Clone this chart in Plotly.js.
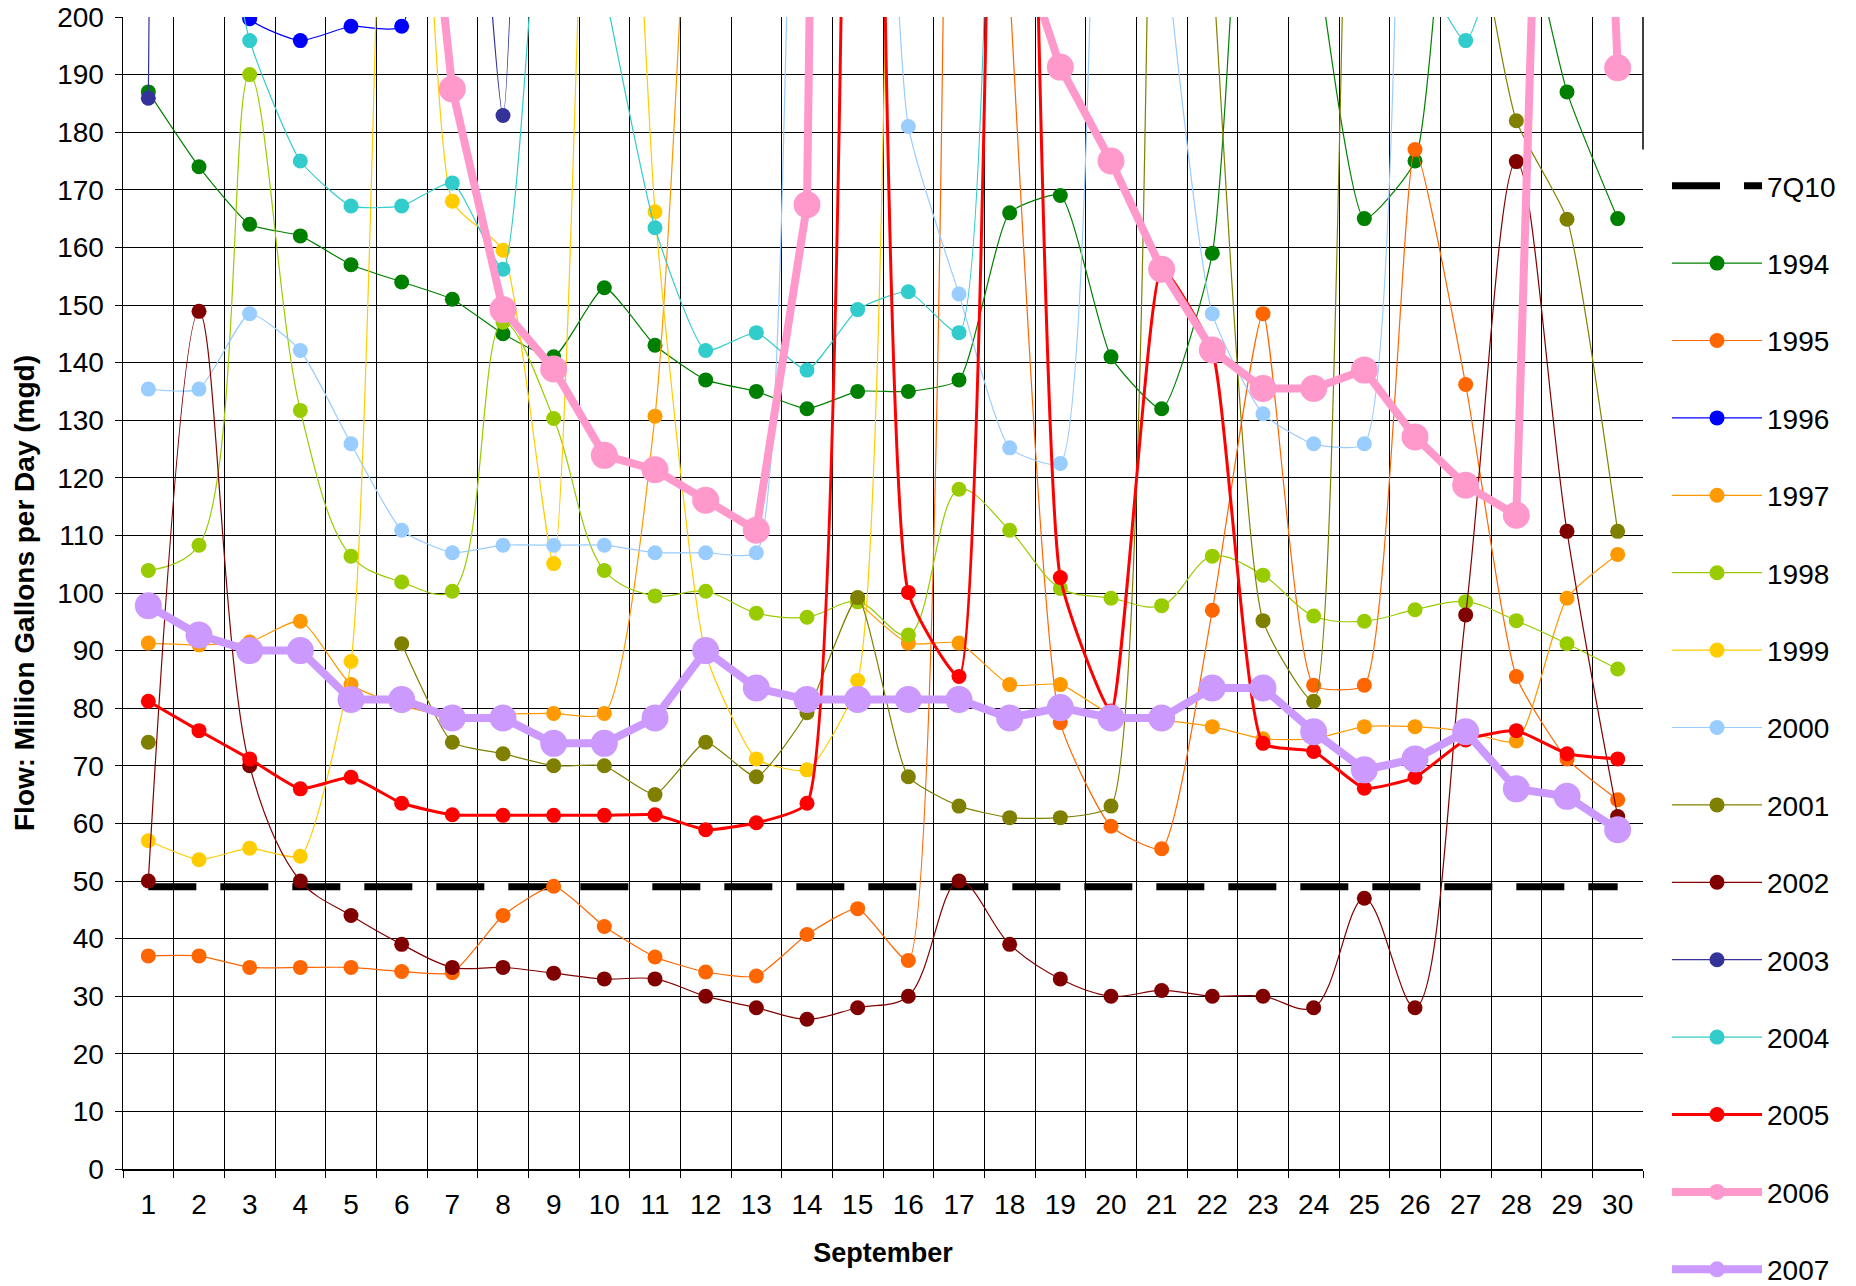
<!DOCTYPE html>
<html>
<head>
<meta charset="utf-8">
<script src="https://cdn.plot.ly/plotly-3.0.1.min.js"></script>
<style>html,body{margin:0;padding:0;background:#fff;}#chart{width:1856px;height:1286px;}</style>
</head>
<body>
<div id="chart"></div>
<script>
const days = ['1','2','3','4','5','6','7','8','9','10','11','12','13','14','15','16','17','18','19','20','21','22','23','24','25','26','27','28','29','30'];

const y7Q10 = [49,49,49,49,49,49,49,49,49,49,49,49,49,49,49,49,49,49,49,49,49,49,49,49,49,49,49,49,49,49];
const y1994 = [187,174,164,162,157,154,151,145,141,153,143,137,135,132,135,135,137,166,169,141,132,159,290,215,165,175,260,225,187,165];
const y1995 = [37,37,35,35,35,34.3,34.1,44,49.1,42.1,36.8,34.2,33.5,40.7,45.2,36.2,400,205,77.5,59.5,55.6,97,148.5,84,84,177,136.2,85.5,71.2,64.1];
const y1996 = [260,225,199.7,195.9,198.4,198.4,420,520,560,610,580,540,500,470,450,430,420,410,400,380,370,360,350,340,330,320,310,300,290,280];
const y1997 = [91.3,91,91.5,95.1,84.1,80.5,78.5,79,79.1,79.1,130.7,300,null,null,98.5,91.3,91.3,84.1,84.1,79,78,76.8,74.7,74.7,76.8,76.8,76,74.3,99.1,106.7];
const y1998 = [103.9,108.3,190,131.7,106.4,101.9,100.3,147,130.3,103.9,99.5,100.3,96.5,95.8,98.5,92.7,118,110.9,100.8,99.1,97.8,106.4,103.1,96,95.1,97.1,98.5,95.2,91.2,86.8];
const y1999 = [57,53.7,55.7,54.3,88.1,350,168,159.5,105.1,330,166.2,89.5,71.2,69.3,84.8,700,1500,2500,3000,2800,2400,2000,1700,1500,1300,1100,950,850,750,680];
const y2000 = [135.4,135.4,148.5,142.1,125.9,110.9,107,108.3,108.3,108.3,107,107,107,300,320,181,151.9,125.2,122.5,400,220,148.5,131.1,125.9,125.9,600,800,900,850,700];
const y2001 = [74.1,null,null,null,null,91.2,74.1,72.1,70,70,65,74.1,68.1,79.2,99.2,68.1,63,61,61,63,350,210,95.2,81.2,300,320,230,182,164.9,110.7];
const y2002 = [50,148.9,70,50,44,39,35,35,34,33,33,30,28,26,28,30,50,39,33,30,31,30,30,28,47,28,96.2,174.9,110.7,61.2];
const y2003 = [185.9,1200,900,700,520,420,300,182.9,500,800,900,850,700,600,550,500,480,700,1500,2500,2200,1800,1500,1200,1000,900,800,700,600,550];
const y2004 = [260,240,195.9,175,167.2,167.2,171.2,156.2,250,205,163.4,142.1,145.2,138.7,149.2,152.3,145.2,600,900,1000,800,700,600,450,300,212,195.9,225,300,350];
const y2005 = [81.2,76.1,71.2,66,68,63.5,61.5,61.4,61.4,61.4,61.5,58.9,60.1,63.5,800,100.1,85.5,450,102.7,79.5,156.3,142,73.9,72.5,66.1,68,74.5,76.1,72.1,71.2];
const y2006 = [350,330,320,300,290,270,187.5,149.2,138.9,123.9,121.4,116.1,110.9,167.4,820,700,500,218,191.3,175,156.2,142.2,135.5,135.5,138.7,127.1,118.7,113.5,400,191.2];
const y2007 = [97.8,92.7,90,90,81.5,81.5,78.3,78.3,73.9,73.9,78.3,90,83.5,81.5,81.5,81.5,81.5,78.3,80.1,78.3,78.3,83.5,83.5,75.9,69.3,71.2,75.9,66,64.7,58.9];

const seriesNames = ['1994','1995','1996','1997','1998','1999','2000','2001','2002','2003','2004','2005'];
const seriesData = [y1994,y1995,y1996,y1997,y1998,y1999,y2000,y2001,y2002,y2003,y2004,y2005];
const seriesColors = ['#008000','#FF6600','#0000FF','#FF9900','#99CC00','#FFCC00','#99CCFF','#808000','#800000','#333399','#33CCCC','#FF0000'];
const seriesSmoothing = [0.5,0.5,0.5,0.6,1,0.5,0.5,0.5,1,0.5,0.5,0.45];

const FONT = 'Liberation Sans, Arial, sans-serif';
const traces = [];
traces.push({
  x: days, y: y7Q10, name: '7Q10', legendgroup: 'g0', mode: 'lines',
  line: {color: '#000000', width: 7, dash: '48px,24px'}
});
seriesNames.forEach((n, i) => {
  traces.push({
    x: days, y: seriesData[i], name: n, legendgroup: 'g' + (i + 1), mode: 'lines+markers',
    line: {color: seriesColors[i], width: n === '2005' ? 3 : 1.2, shape: 'spline', smoothing: seriesSmoothing[i]},
    marker: {color: seriesColors[i], size: 15},
    connectgaps: false
  });
});
traces.push({
  x: days, y: y2006, name: '2006', legendgroup: 'g13', mode: 'lines+markers',
  line: {color: '#FF99CC', width: 8}, marker: {color: '#FF99CC', size: 27}
});
traces.push({
  x: days, y: y2007, name: '2007', legendgroup: 'g14', mode: 'lines+markers',
  line: {color: '#CC99FF', width: 8}, marker: {color: '#CC99FF', size: 27}
});

const layout = {
  width: 1856, height: 1286,
  margin: {l: 123, r: 213, t: 17, b: 117, autoexpand: false},
  paper_bgcolor: '#ffffff', plot_bgcolor: '#ffffff',
  font: {family: FONT, size: 28, color: '#000'},
  showlegend: true,
  xaxis: {
    type: 'category', range: [-0.5, 29.5], autorange: false,
    tickson: 'boundaries', ticks: 'outside', ticklen: 7, tickcolor: '#000',
    showgrid: true, gridcolor: '#000', gridwidth: 1,
    showline: true, linecolor: '#000', linewidth: 1.5,
    tickfont: {family: FONT, size: 28, color: '#000'}, ticklabelstandoff: 10,
    title: {text: '<b>September</b>', font: {family: FONT, size: 27, color: '#000'}, standoff: 24},
    automargin: false
  },
  yaxis: {
    range: [0, 200], autorange: false, dtick: 10, tick0: 0, ticks: 'outside', ticklen: 7, tickcolor: '#000',
    showgrid: true, gridcolor: '#000', gridwidth: 1, zeroline: false,
    showline: true, linecolor: '#000', linewidth: 1.5,
    tickfont: {family: FONT, size: 28, color: '#000'}, ticklabelstandoff: 5,
    title: {text: '<b>Flow: Million Gallons per Day (mgd)</b>', font: {family: FONT, size: 28, color: '#000'}, standoff: 14},
    automargin: false
  },
  legend: {
    x: 1.0158, xanchor: 'left', y: 0.875, yanchor: 'top',
    font: {family: FONT, size: 28, color: '#000'},
    bgcolor: 'rgba(255,255,255,0)', borderwidth: 0, maxheight: 1400,
    itemwidth: 90, tracegroupgap: 38, traceorder: 'grouped'
  },
  shapes: [
    {type: 'line', xref: 'paper', yref: 'y', x0: 1, x1: 1, y0: 177, y1: 200, line: {color: '#000', width: 1.5}}
  ]
};

Plotly.newPlot('chart', traces, layout, {displayModeBar: false, staticPlot: true});
</script>
</body>
</html>
